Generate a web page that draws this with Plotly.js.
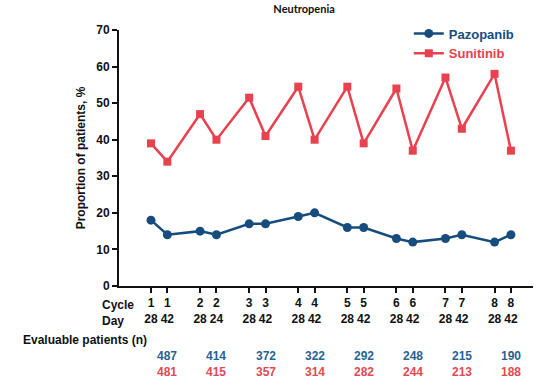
<!DOCTYPE html>
<html>
<head>
<meta charset="utf-8">
<script src="https://cdn.plot.ly/plotly-3.0.1.min.js"></script>
<style>html,body{margin:0;padding:0;background:#fff;}#chart{width:560px;height:385px;}</style>
</head>
<body>
<div id="chart"></div>
<script>
var cycles = [1,1,2,2,3,3,4,4,5,5,6,6,7,7,8,8];
var days = [28,42,28,24,28,42,28,42,28,42,28,42,28,42,28,42];
var pazopanib = [18,14,15,14,17,17,19,20,16,16,13,12,13,14,12,14];
var sunitinib = [39,34,47,40,51.5,41,54.5,40,54.5,39,54,37,57,43,58,37];
var nCycles = [1,2,3,4,5,6,7,8];
var nPazopanib = [487,414,372,322,292,248,215,190];
var nSunitinib = [481,415,357,314,282,244,213,188];

var blue = '#174d7e';
var red = '#e8414f';
var font = 'Liberation Sans, Arial, sans-serif';

// x position: each cycle occupies 3 units; second visit of a cycle sits 1 unit later
var xpos = cycles.map(function(c, i){ return 3*c + (i % 2); });
var ticktext = cycles.map(function(c, i){ return c + '<br>' + days[i]; });

var traces = [
  {x: xpos, y: pazopanib, name: 'Pazopanib', type: 'scatter', mode: 'lines+markers',
   line: {color: blue, width: 2.5}, marker: {color: blue, symbol: 'circle', size: 9}},
  {x: xpos, y: sunitinib, name: 'Sunitinib', type: 'scatter', mode: 'lines+markers',
   line: {color: red, width: 2.5}, marker: {color: red, symbol: 'square', size: 8}}
];

var annotations = [
  {text: '<b>Cycle<br>Day</b>', xref: 'paper', yref: 'paper', x: -0.046, y: -0.04,
   xanchor: 'left', yanchor: 'top', showarrow: false, align: 'left',
   font: {family: font, size: 12, color: '#111'}},
  {text: '<b>Evaluable patients (n)</b>', xref: 'paper', yref: 'paper', x: -0.236, y: -0.212,
   xanchor: 'left', yanchor: 'middle', showarrow: false,
   font: {family: font, size: 12, color: '#111'}}
];
nCycles.forEach(function(c, i){
  annotations.push({text: '<b>' + nPazopanib[i] + '</b>', xref: 'x', yref: 'paper',
    x: 3*c + 1, y: -0.275, xanchor: 'center', yanchor: 'middle', showarrow: false,
    font: {family: font, size: 12, color: '#2a6293'}});
  annotations.push({text: '<b>' + nSunitinib[i] + '</b>', xref: 'x', yref: 'paper',
    x: 3*c + 1, y: -0.337, xanchor: 'center', yanchor: 'middle', showarrow: false,
    font: {family: font, size: 12, color: '#e04a55'}});
});

var layout = {
  width: 560, height: 385,
  margin: {l: 119, r: 27, t: 30, b: 99},
  paper_bgcolor: '#fff', plot_bgcolor: '#fff',
  title: {text: '<b>Neutropenia</b>', x: 0.543, xanchor: 'center', y: 0.975, yanchor: 'middle',
          font: {family: 'Lato, Open Sans, sans-serif', size: 11, color: '#111'}},
  showlegend: true,
  legend: {x: 0.7, y: 1.045, xanchor: 'left', yanchor: 'top', bgcolor: 'rgba(0,0,0,0)',
           font: {family: font, size: 13, weight: 'bold'}, itemwidth: 30},
  xaxis: {range: [1.044, 26.35], tickmode: 'array', tickvals: xpos, ticktext: ticktext,
          showgrid: false, zeroline: false, showline: true, linecolor: '#111', linewidth: 2,
          ticks: 'outside', ticklen: 5, tickwidth: 2, tickcolor: '#111',
          tickfont: {family: font, size: 12, color: '#111', weight: 'bold'}, fixedrange: true},
  yaxis: {range: [0, 70], dtick: 10, showgrid: false, zeroline: false, showline: true,
          linecolor: '#111', linewidth: 2, ticks: 'outside', ticklen: 5, tickwidth: 2,
          tickcolor: '#111', tickfont: {family: font, size: 12, color: '#111', weight: 'bold'},
          title: {text: '<b>Proportion of patients, %</b>', standoff: 8,
                  font: {family: font, size: 12, color: '#111'}}},
  annotations: annotations
};

Plotly.newPlot('chart', traces, layout, {staticPlot: true}).then(function(){
  // colour legend text like its series
  var items = document.querySelectorAll('.legendtext');
  var cols = [blue, red];
  items.forEach(function(el, i){ el.style.fill = cols[i]; el.style.fontWeight = 'bold'; });
});
</script>
</body>
</html>
